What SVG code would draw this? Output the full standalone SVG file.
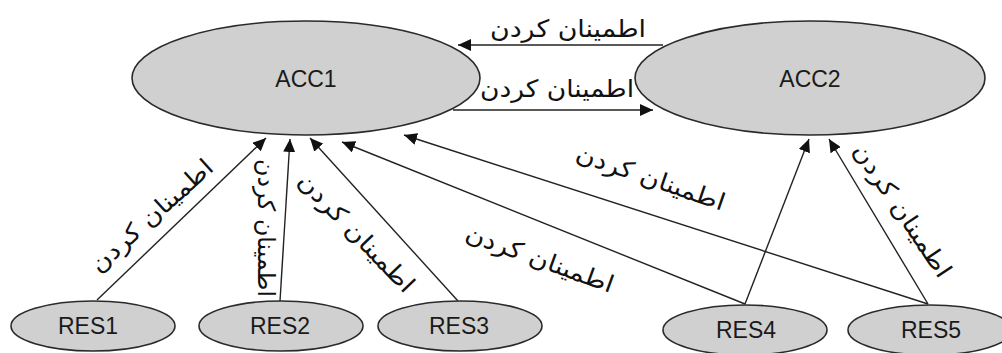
<svg xmlns="http://www.w3.org/2000/svg" width="1002" height="353" viewBox="0 0 1002 353">
  <style>
    .node { fill: #d0d0d0; stroke: #2a2a2a; stroke-width: 1.6; }
    .name { font-family: "Liberation Sans", Arial, sans-serif; font-size: 23px; fill: #1a1a1a; text-anchor: middle; }
    .edge { stroke: #222; stroke-width: 1.4; fill: none; marker-end: url(#arrow); }
    .lbl { font-family: "DejaVu Sans", "Noto Sans", sans-serif; font-size: 24px; fill: #111; text-anchor: middle; }
  </style>
  <defs>
    <marker id="arrow" markerUnits="userSpaceOnUse" markerWidth="14" markerHeight="12" refX="13" refY="6" orient="auto">
      <path d="M0,0 L13,6 L0,12 z" fill="#111"/>
    </marker>
  </defs>
  <rect width="1002" height="353" fill="#fff"/>

  <!-- connectors -->
  <g id="connectors">
    <line class="edge" x1="663" y1="45" x2="458" y2="45"/>
    <line class="edge" x1="453" y1="110" x2="653" y2="110"/>
    <line class="edge" x1="97" y1="300" x2="266" y2="138"/>
    <line class="edge" x1="280" y1="301" x2="290" y2="139"/>
    <line class="edge" x1="458" y1="301" x2="310" y2="138"/>
    <line class="edge" x1="745" y1="304" x2="342" y2="142"/>
    <line class="edge" x1="928" y1="304" x2="404" y2="135"/>
    <line class="edge" x1="745" y1="304" x2="809" y2="139"/>
    <line class="edge" x1="928" y1="304" x2="829" y2="139"/>
  </g>

  <!-- connector labels -->
  <g id="labels">
    <text class="lbl" x="568" y="37" textLength="156" lengthAdjust="spacingAndGlyphs">اطمینان کردن</text>
    <text class="lbl" x="557" y="97" textLength="154" lengthAdjust="spacingAndGlyphs">اطمینان کردن</text>
    <text class="lbl" transform="translate(151,215) rotate(-42)" y="9" textLength="156" lengthAdjust="spacingAndGlyphs">اطمینان کردن</text>
    <text class="lbl" transform="translate(267,228) rotate(90)" y="9" textLength="138" lengthAdjust="spacingAndGlyphs">اطمینان کردن</text>
    <text class="lbl" transform="translate(357,232) rotate(46)" y="9" textLength="156" lengthAdjust="spacingAndGlyphs">اطمینان کردن</text>
    <text class="lbl" transform="translate(540,258) rotate(20)" y="9" textLength="156" lengthAdjust="spacingAndGlyphs">اطمینان کردن</text>
    <text class="lbl" transform="translate(651,177) rotate(19)" y="9" textLength="156" lengthAdjust="spacingAndGlyphs">اطمینان کردن</text>
    <text class="lbl" transform="translate(903,210) rotate(56)" y="9" textLength="156" lengthAdjust="spacingAndGlyphs">اطمینان کردن</text>
  </g>

  <!-- nodes -->
  <g id="ACC1">
    <ellipse class="node" cx="306" cy="78" rx="174" ry="57"/>
    <text class="name" x="306" y="87">ACC1</text>
  </g>
  <g id="ACC2">
    <ellipse class="node" cx="810" cy="78" rx="175" ry="57"/>
    <text class="name" x="810" y="87">ACC2</text>
  </g>
  <g id="RES1">
    <ellipse class="node" cx="93" cy="326" rx="82" ry="25"/>
    <text class="name" x="88" y="334">RES1</text>
  </g>
  <g id="RES2">
    <ellipse class="node" cx="281" cy="326" rx="82" ry="25"/>
    <text class="name" x="280" y="334">RES2</text>
  </g>
  <g id="RES3">
    <ellipse class="node" cx="460" cy="326" rx="82" ry="25"/>
    <text class="name" x="459" y="334">RES3</text>
  </g>
  <g id="RES4">
    <ellipse class="node" cx="745" cy="330" rx="82" ry="25"/>
    <text class="name" x="746" y="338">RES4</text>
  </g>
  <g id="RES5">
    <ellipse class="node" cx="930" cy="330" rx="82" ry="25"/>
    <text class="name" x="931" y="338">RES5</text>
  </g>
</svg>
